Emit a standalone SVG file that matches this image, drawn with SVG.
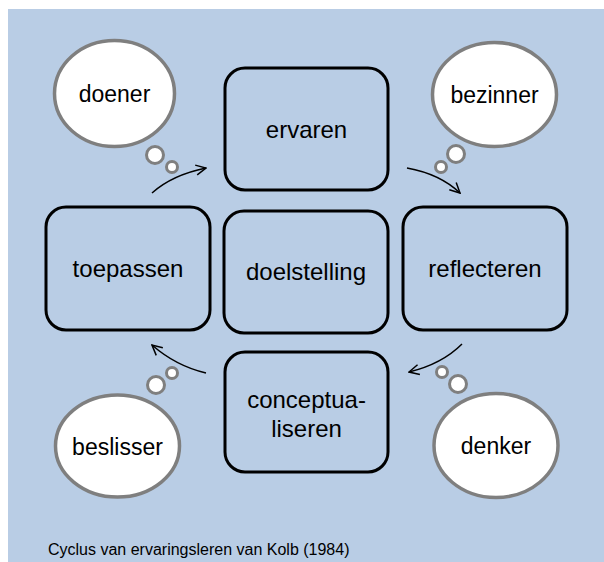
<svg xmlns="http://www.w3.org/2000/svg" width="604" height="562" viewBox="0 0 604 562">
<style>
.box{fill:none;stroke:#000;stroke-width:3}
.cloud{fill:#fff;stroke:#7f7f7f;stroke-width:3.5}
.bub{fill:#fff;stroke:#7f7f7f;stroke-width:3}
.t{font-family:"Liberation Sans",Arial,sans-serif;font-size:24px;fill:#000;text-anchor:middle}
.c{font-family:"Liberation Sans",Arial,sans-serif;font-size:23px;fill:#000;text-anchor:middle}
.arr{fill:none;stroke:#000;stroke-width:1.5;marker-end:url(#ah)}
</style>
<defs>
<marker id="ah" viewBox="0 0 12 12" refX="11" refY="6" markerWidth="12" markerHeight="12" markerUnits="userSpaceOnUse" orient="auto">
<path d="M1,1 L11,6 L1,11" fill="none" stroke="#000" stroke-width="1.5"/>
</marker>
</defs>
<rect x="8" y="9" width="596" height="553" fill="#b9cde5"/>
<g id="connectors">
<path class="arr" d="M152,193 Q172,175 206,168"/>
<path class="arr" d="M407,168 Q440,174 460,193"/>
<path class="arr" d="M462,344 Q442,364 409,372"/>
<path class="arr" d="M206,373 Q176,366 152,345"/>
</g>
<g id="ervaren"><rect class="box" x="225" y="68" width="163" height="122" rx="20"/><text class="t" x="306.5" y="138">ervaren</text></g>
<g id="toepassen"><rect class="box" x="46" y="207" width="164" height="123" rx="20"/><text class="t" x="128" y="277">toepassen</text></g>
<g id="doelstelling"><rect class="box" x="224" y="211" width="164" height="122" rx="20"/><text class="t" x="306" y="280">doelstelling</text></g>
<g id="reflecteren"><rect class="box" x="403" y="207" width="164" height="123" rx="20"/><text class="t" x="485" y="277">reflecteren</text></g>
<g id="conceptualiseren"><rect class="box" x="225" y="352" width="163" height="120" rx="20"/><text class="t" x="306.5" y="408">conceptua-</text><text class="t" x="306.5" y="437">liseren</text></g>
<g id="doener"><ellipse class="cloud" cx="114.5" cy="93.5" rx="60" ry="53"/><circle class="bub" cx="155" cy="155" r="8.5"/><circle class="bub" cx="172" cy="167" r="5.5"/><text class="c" x="114.5" y="102">doener</text></g>
<g id="bezinner"><ellipse class="cloud" cx="494.5" cy="94.5" rx="62" ry="52"/><circle class="bub" cx="456" cy="154" r="8.5"/><circle class="bub" cx="441" cy="167" r="5.5"/><text class="c" x="494.5" y="103">bezinner</text></g>
<g id="beslisser"><ellipse class="cloud" cx="117.5" cy="446" rx="62" ry="51"/><circle class="bub" cx="156" cy="385" r="8.5"/><circle class="bub" cx="172" cy="373" r="5.5"/><text class="c" x="117.5" y="455">beslisser</text></g>
<g id="denker"><ellipse class="cloud" cx="496" cy="445.5" rx="62" ry="52"/><circle class="bub" cx="458" cy="384" r="8.5"/><circle class="bub" cx="442" cy="372" r="5.5"/><text class="c" x="496" y="454">denker</text></g>
<text x="48" y="555" font-family="'Liberation Sans',Arial,sans-serif" font-size="16" fill="#000">Cyclus van ervaringsleren van Kolb (1984)</text>
</svg>
